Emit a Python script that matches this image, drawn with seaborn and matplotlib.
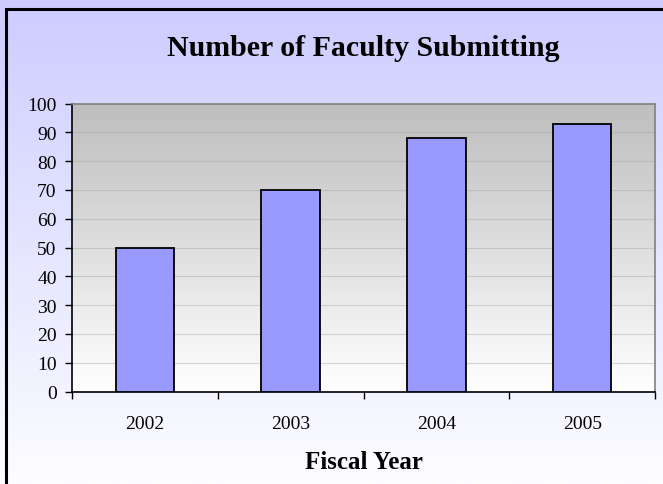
import matplotlib
matplotlib.use("Agg")
import matplotlib.pyplot as plt
import matplotlib.patches as mpatches
import numpy as np
import pandas as pd
import seaborn as sns

years = ['2002', '2003', '2004', '2005']
faculty = [50, 70, 88, 93]

df = pd.DataFrame({'year': years, 'faculty': faculty})

sns.set_style('white')
plt.rcParams['font.family'] = ['Liberation Serif', 'DejaVu Serif']
plt.rcParams['text.color'] = 'black'
plt.rcParams['xtick.color'] = 'black'
plt.rcParams['ytick.color'] = 'black'
plt.rcParams['axes.labelcolor'] = 'black'

fig = plt.figure(figsize=(6.63, 4.85), dpi=100)

# figure background: lavender to white gradient
bg = fig.add_axes([0, 0, 1, 1], zorder=-10)
grad = np.linspace(0, 1, 256).reshape(-1, 1)
top = np.array([204, 204, 255]) / 255
bot = np.array([253, 253, 255]) / 255
img = top[None, None, :] * (1 - grad[:, :, None]) + bot[None, None, :] * grad[:, :, None]
bg.imshow(img, aspect='auto', extent=[0, 1, 0, 1])
bg.set_xlim(0, 1)
bg.set_ylim(0, 1)
bg.axis('off')

# outer black frame (cropped at right and bottom)
fig.patches.append(mpatches.Rectangle((6 / 663, -0.05), 1.1, 1 - 10 / 485 + 0.05,
                                      transform=fig.transFigure, fill=False,
                                      edgecolor='black', linewidth=2.2, zorder=5))

ax = fig.add_axes([72 / 663, 1 - 392.5 / 485, (655 - 72) / 663, (392.5 - 104.5) / 485])

sns.barplot(data=df, x='year', y='faculty', ax=ax, color='#9999FF', saturation=1,
            width=0.4, edgecolor='black', linewidth=1.3, zorder=3)

# plot area gradient: gray to white
pa_top = np.array([190, 190, 190]) / 255
pa_bot = np.array([255, 255, 255]) / 255
pimg = pa_top[None, None, :] * (1 - grad[:, :, None]) + pa_bot[None, None, :] * grad[:, :, None]
ax.imshow(pimg, aspect='auto', extent=[-0.5, 3.5, 0, 100], zorder=0)
ax.set_xlim(-0.5, 3.5)
ax.set_ylim(0, 100)

ax.set_yticks(range(0, 101, 10))
for v in range(10, 100, 10):
    ax.axhline(v, color='#A0A0A0', linewidth=0.8, alpha=0.4, zorder=1)

ax.set_xticks([0, 1, 2, 3])
ax.set_xticklabels(years)
ax.set_xticks([-0.5, 0.5, 1.5, 2.5, 3.5], minor=True)
ax.tick_params(axis='x', which='major', length=0, pad=17, labelsize=14)
ax.tick_params(axis='x', which='minor', length=5, width=1, direction='out', color='black')
ax.tick_params(axis='y', length=5, width=1, direction='out', color='black', labelsize=14, pad=6)
ax.tick_params(left=True, bottom=True, which='both')

for s in ['top', 'right']:
    ax.spines[s].set_color('#808080')
    ax.spines[s].set_linewidth(1.2)
for s in ['left', 'bottom']:
    ax.spines[s].set_color('black')
    ax.spines[s].set_linewidth(1.2)

ax.set_ylabel('')
ax.set_xlabel('Fiscal Year', fontsize=18, fontweight='bold', labelpad=13)

fig.text(363 / 663, 1 - 48 / 485, 'Number of Faculty Submitting', ha='center', va='center',
         fontsize=21.5, fontweight='bold')

fig.savefig('out.png', dpi=100)
